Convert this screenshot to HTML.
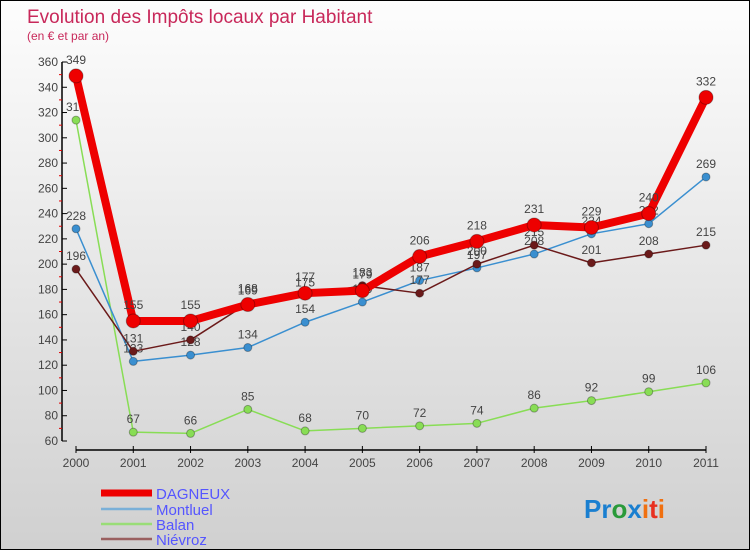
<!DOCTYPE html>
<html><head><meta charset="utf-8"><style>
body{margin:0;}
#c{position:relative;width:750px;height:550px;box-sizing:border-box;border:1px solid #000;background:linear-gradient(#fdfdfd,#d0d0d0);font-family:"Liberation Sans",sans-serif;overflow:hidden}
svg text{font-family:"Liberation Sans",sans-serif}
</style></head><body>
<div id="c">
<svg id="s" width="750" height="550">
<text x="26" y="22" font-size="19" fill="#c8285a">Evolution des Impôts locaux par Habitant</text>
<text x="26" y="39" font-size="12" fill="#c8285a">(en € et par an)</text>
<text x="583" y="517" font-size="26" font-weight="bold"><tspan fill="#1a7fd0">Pr</tspan><tspan fill="#2a9a3a">o</tspan><tspan fill="#1a7fd0">x</tspan><tspan fill="#f07010">i</tspan><tspan fill="#e83020">t</tspan><tspan fill="#f07010">i</tspan></text>
</svg>
</div>
<script>
const years=[2000,2001,2002,2003,2004,2005,2006,2007,2008,2009,2010,2011];
const dagneux=[349,155,155,168,177,179,206,218,231,229,240,332];
const montluel=[228,123,128,134,154,170,187,197,208,224,232,269];
const balan=[314,67,66,85,68,70,72,74,86,92,99,106];
const nievroz=[196,131,140,169,175,183,177,200,215,201,208,215];
const yTicks=[60,80,100,120,140,160,180,200,220,240,260,280,300,320,340,360];
const NS='http://www.w3.org/2000/svg';
const svg=document.getElementById('s');
const X=i=>75+i*(705-75)/(years.length-1);
const Y=v=>440-(v-60)*(440-61)/300;
function el(t,a,p){const e=document.createElementNS(NS,t);for(const k in a)e.setAttribute(k,a[k]);(p||svg).appendChild(e);return e;}
// y axis
const ya=el('line',{x1:61,y1:Y(360),x2:61,y2:440,stroke:'#000','stroke-width':1.5});


yTicks.forEach((v,i)=>{
 el('line',{x1:61,y1:Y(v),x2:66,y2:Y(v),stroke:'#000'});
 if(i<yTicks.length-1)el('line',{x1:58,y1:Y(v+10),x2:61,y2:Y(v+10),stroke:'#e00000'});
 const t=el('text',{x:57,y:Y(v)+4,'font-size':12,fill:'#444','text-anchor':'end'});
 t.textContent=v;
 
 
});
const xa=el('line',{x1:75,y1:449,x2:705,y2:449,stroke:'#000','stroke-width':1.5});


years.forEach((y,i)=>{
 el('line',{x1:X(i),y1:445,x2:X(i),y2:452,stroke:'#000'});
 const t=el('text',{x:X(i),y:466,'font-size':12,fill:'#444','text-anchor':'middle'});
 t.textContent=y;
 
 
});
function series(data,color,w,r,name){
 const g=el('g',{});
 
 
 el('polyline',{points:data.map((v,i)=>X(i)+','+Y(v)).join(' '),fill:'none',stroke:color,'stroke-width':w,'stroke-linejoin':'round'},g);
 data.forEach((v,i)=>{
  const c=el('circle',{cx:X(i),cy:Y(v),r:r,fill:color,stroke:'rgba(0,0,0,0.3)'},g);
  
  
  const t=el('text',{x:X(i),y:Y(v)-r-5,'font-size':12,fill:'#444','text-anchor':'middle'},g);
  t.textContent=v;
 });
}
series(balan,'#88dd55',1.5,4,'balan');
series(montluel,'#3a8fd0',1.5,4,'montluel');
series(nievroz,'#6b1a1a',1.5,4,'nievroz');
series(dagneux,'#ee0000',8,7,'dagneux');
const leg=[['DAGNEUX','#ee0000',7],['Montluel','#7ab0d8',2.5],['Balan','#99dd77',2.5],['Niévroz','#9a6060',2.5]];
const ly=[492,508,523,538];
leg.forEach((l,i)=>{
 const g=el('g',{});
 
 
 el('line',{x1:100,y1:ly[i],x2:151,y2:ly[i],stroke:l[1],'stroke-width':l[2]},g);
 const t=el('text',{x:155,y:ly[i]+6,'font-size':15,fill:'#5555ff'},g);
 t.textContent=l[0];
});
</script>
</body></html>
